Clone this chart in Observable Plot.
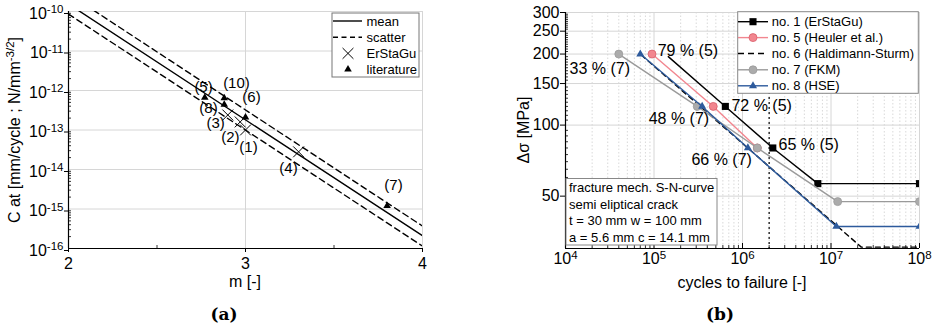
<!DOCTYPE html>
<html><head><meta charset="utf-8">
<script src="https://cdn.jsdelivr.net/npm/d3@7"></script>
<script src="https://cdn.jsdelivr.net/npm/@observablehq/plot@0.6"></script>
<style>
body{margin:0;background:#fff;}
#wrap{position:relative;width:934px;height:329px;overflow:hidden;background:#fff;font-family:"Liberation Sans",Arial,sans-serif;}
#pa{position:absolute;left:0;top:0;}
#pb{position:absolute;left:470px;top:0;}
.cap{position:absolute;top:304px;font-family:"DejaVu Serif",serif;font-weight:bold;font-size:17px;transform:translateX(-50%);white-space:nowrap;}
</style></head>
<body><div id="wrap"><div id="pa"></div><div id="pb"></div>
<div class="cap" style="left:224px">(a)</div><div class="cap" style="left:720px">(b)</div></div>
<script>
// ---------- Panel (a) data ----------
const aLineM = [2, 4];
const aMeanC = [1.55e-10, 2.1e-16];
const aUpperC = [2.8e-10, 3.7e-16];
const aLowerC = [8.6e-11, 1.15e-16];
const aErM = [3.0, 2.97, 2.9, 3.3];
const aErC = [1.0e-13, 1.6e-13, 2.4e-13, 2.8e-14];
const aLitM = [2.77, 2.88, 2.88, 3.0, 3.8];
const aLitC = [6.6e-13, 6.4e-13, 4.4e-13, 2.1e-13, 1.2e-15];
const aLabelText = ["(5)", "(10)", "(6)", "(8)", "(3)", "(2)", "(1)", "(4)", "(7)"];
const aLabelM = [2.763, 2.949, 3.034, 2.791, 2.831, 2.915, 3.017, 3.243, 3.836];
const aLabelC = [1.2e-12, 1.5e-12, 6.6e-13, 3.5e-13, 1.45e-13, 6.5e-14, 3.6e-14, 1.1e-14, 3.9e-15];
const aXTicks = [2, 3, 4];
const aXMinor = [2.5, 3.5];
const aYTicks = [1e-16, 1e-15, 1e-14, 1e-13, 1e-12, 1e-11, 1e-10];
const aYTickLabels = ["10^-16", "10^-15", "10^-14", "10^-13", "10^-12", "10^-11", "10^-10"];
const minorMult = [2, 3, 4, 5, 6, 7, 8, 9];
const aLegend = ["mean", "scatter", "ErStaGu", "literature"];

// ---------- Panel (b) data ----------
const bXTicks = [1e4, 1e5, 1e6, 1e7, 1e8];
const bXTickLabels = ["10^4", "10^5", "10^6", "10^7", "10^8"];
const bYTicks = [50, 100, 150, 200, 250, 300];
const bYTickLabels = ["50", "100", "150", "200", "250", "300"];
const bRefN = [2e6];
const s1N = [1.45e5, 6.4e5, 2.2e6, 7.1e6, 1e8];
const s1S = [195, 120, 80, 56.5, 56.5];
const s1MarkN = [6.4e5, 2.2e6, 7.1e6, 1e8];
const s1MarkS = [120, 80, 56.5, 56.5];
const s5N = [9.5e4, 4.67e5, 1.47e6];
const s5S = [200, 120, 80];
const s6N = [7.2e4, 2.2e7, 1e8];
const s6S = [198, 30.4, 30.4];
const s7N = [4e4, 3.08e5, 1.47e6, 1.19e7, 1e8];
const s7S = [200, 120, 80, 47.4, 47.4];
const s8N = [7e4, 3.5e5, 1.15e6, 1.15e7, 1e8];
const s8S = [200, 120, 80, 37.2, 37.2];
const bLabelText = ["79 % (5)", "33 % (7)", "72 % (5)", "48 % (7)", "65 % (5)", "66 % (7)"];
const bLabelN = [1.1e5, 1.11e4, 7.5e5, 8.7e4, 2.55e6, 2.65e5];
const bLabelS = [207, 173, 121, 106.4, 82.6, 71.3];
const bLegend = ["no. 1 (ErStaGu)", "no. 5 (Heuler et al.)", "no. 6 (Haldimann-Sturm)", "no. 7 (FKM)", "no. 8 (HSE)"];
const bNote = ["fracture mech. S-N-curve", "semi eliptical crack", "t = 30 mm w = 100 mm", "a = 5.6 mm c = 14.1 mm"];

const FONT = "Liberation Sans, Arial, sans-serif";
const GRID = "#d6d6d6";
const PINK = "#f2868f", PINKD = "#d9606c";
const GRAY = "#9a9a9a", GRAYF = "#ababab";
const BLUE = "#2d5a9c";

function supify(svg) {
  d3.select(svg).selectAll("text").each(function () {
    const t = this.textContent;
    const k = t.indexOf("^");
    if (k < 0) return;
    const base = t.slice(0, k), exp = t.slice(k + 1);
    const el = d3.select(this);
    el.selectAll("*").remove();
    el.text(null);
    el.append("tspan").text(base);
    el.append("tspan").attr("dy", "-0.45em").attr("font-size", "0.72em").text(exp);
  });
}

// ---------- Panel (a) ----------
const WA = 440, HA = 290, mlA = 68, mrA = 18, mtA = 11, mbA = 42;
const pwA = WA - mlA - mrA, phA = HA - mtA - mbA;
const aYMinor = aYTicks.slice(0, -1).flatMap(d => minorMult.map(k => d * k));

const plotA = Plot.plot({
  width: WA, height: HA, marginLeft: mlA, marginRight: mrA, marginTop: mtA, marginBottom: mbA,
  style: {fontFamily: FONT, fontSize: "16px", color: "#000", background: "#fff", overflow: "visible"},
  x: {domain: [2, 4]},
  y: {type: "log", domain: [1e-16, 1e-10]},
  marks: [
    Plot.ruleY(aYTicks, {stroke: GRID, strokeWidth: 1}),
    Plot.ruleX([3, 4], {stroke: GRID, strokeWidth: 1}),
    Plot.line(aLineM, {x: aLineM, y: aUpperC, stroke: "#000", strokeWidth: 1.4, strokeDasharray: "6,4", clip: true}),
    Plot.line(aLineM, {x: aLineM, y: aLowerC, stroke: "#000", strokeWidth: 1.4, strokeDasharray: "6,4", clip: true}),
    Plot.line(aLineM, {x: aLineM, y: aMeanC, stroke: "#000", strokeWidth: 1.4, clip: true}),
    Plot.dot(aErM, {x: aErM, y: aErC, symbol: "times", r: 5, stroke: "#000", strokeWidth: 1, fill: "none"}),
    Plot.dot(aLitM, {x: aLitM, y: aLitC, symbol: "triangle", r: 2.8, fill: "#000", stroke: "none"}),
    Plot.text(aLabelText, {x: aLabelM, y: aLabelC, text: aLabelText, fontSize: 15, fill: "#000"}),
    Plot.tickY(aYMinor, {y: d => d, insetRight: pwA - 3, stroke: "#000", strokeWidth: 0.8}),
    Plot.tickX(aXMinor, {x: d => d, insetTop: phA - 3, stroke: "#000", strokeWidth: 0.8}),
    Plot.ruleX([2], {stroke: "#000", strokeWidth: 1.2}),
    Plot.ruleY([1e-16], {stroke: "#000", strokeWidth: 1.2}),
    Plot.axisY(aYTicks, {anchor: "left", tickSize: 4, tickPadding: 1, dy: 2, label: null,
      tickFormat: d => aYTickLabels[aYTicks.indexOf(d)]}),
    Plot.axisX(aXTicks, {anchor: "bottom", tickSize: 4, tickPadding: 5, label: null,
      tickFormat: d => String(d)})
  ]
});
supify(plotA);
{
  const s = d3.select(plotA);
  s.append("text").attr("transform", "translate(14,130) rotate(-90)").attr("text-anchor", "middle")
    .attr("dy", "0.35em").attr("font-size", 16).attr("fill", "#000")
    .call(t => {
      t.append("tspan").text("C at [mm/cycle ; N/mm");
      t.append("tspan").attr("font-size", 11.5).attr("dy", -6).text("-3/2");
      t.append("tspan").attr("dy", 6).text("]");
    });
  s.append("text").attr("x", 245).attr("y", 281).attr("text-anchor", "middle").attr("dy", "0.35em")
    .attr("font-size", 16).attr("fill", "#000").text("m [-]");
  const g = s.append("g").attr("font-size", 13).attr("fill", "#000").attr("text-anchor", "start");
  g.append("rect").attr("x", 332).attr("y", 13).attr("width", 87).attr("height", 64)
    .attr("fill", "#fff").attr("stroke", "#777").attr("stroke-width", 1);
  const ry = [21, 37.2, 53.4, 69.4];
  g.append("line").attr("x1", 333).attr("x2", 362).attr("y1", ry[0]).attr("y2", ry[0]).attr("stroke", "#000").attr("stroke-width", 1.4);
  g.append("line").attr("x1", 333).attr("x2", 362).attr("y1", ry[1]).attr("y2", ry[1]).attr("stroke", "#000").attr("stroke-width", 1.4).attr("stroke-dasharray", "5,3.5");
  g.append("path").attr("d", d3.symbol(d3.symbolTimes, 25 * Math.PI)()).attr("transform", `translate(348,${ry[2]})`).attr("fill", "none").attr("stroke", "#000");
  g.append("path").attr("d", d3.symbol(d3.symbolTriangle, 2.8 * 2.8 * Math.PI)()).attr("transform", `translate(348,${ry[3]})`).attr("fill", "#000");
  aLegend.forEach((t, i) => g.append("text").attr("x", 366.5).attr("y", ry[i]).attr("dy", "0.35em").attr("text-anchor", "start").text(t));
}
document.getElementById("pa").appendChild(plotA);

// ---------- Panel (b) ----------
const WB = 464, HB = 290, mlB = 95, mrB = 15, mtB = 12, mbB = 42;
const pwB = WB - mlB - mrB, phB = HB - mtB - mbB;
const bXMinor = bXTicks.slice(0, -1).flatMap(d => minorMult.map(k => d * k));
const bYMinor = d3.range(30, 301, 5).filter(v => !bYTicks.includes(v));

const plotB = Plot.plot({
  width: WB, height: HB, marginLeft: mlB, marginRight: mrB, marginTop: mtB, marginBottom: mbB,
  style: {fontFamily: FONT, fontSize: "16px", color: "#000", background: "#fff", overflow: "visible"},
  x: {type: "log", domain: [1e4, 1e8]},
  y: {type: "log", domain: [30, 300]},
  marks: [
    Plot.ruleX(bXMinor, {stroke: "#cfcfcf", strokeWidth: 0.8, strokeDasharray: "1.5,2"}),
    Plot.ruleX(bXTicks, {stroke: GRID, strokeWidth: 1}),
    Plot.ruleY(bYTicks, {stroke: GRID, strokeWidth: 1}),
    Plot.ruleX(bRefN, {stroke: "#000", strokeWidth: 1.2, strokeDasharray: "2,3"}),
    Plot.line(s1N, {x: s1N, y: s1S, stroke: "#000", strokeWidth: 1.4, clip: true}),
    Plot.dot(s1MarkN, {x: s1MarkN, y: s1MarkS, symbol: "square", r: 4, fill: "#000", clip: true}),
    Plot.line(s5N, {x: s5N, y: s5S, stroke: PINK, strokeWidth: 1.4, clip: true}),
    Plot.dot(s5N, {x: s5N, y: s5S, r: 4, fill: PINK, stroke: PINKD, strokeWidth: 0.8, clip: true}),
    Plot.line(s6N, {x: s6N, y: s6S, stroke: "#000", strokeWidth: 1.4, strokeDasharray: "5,4", clip: true}),
    Plot.line(s7N, {x: s7N, y: s7S, stroke: GRAY, strokeWidth: 1.4, clip: true}),
    Plot.dot(s7N, {x: s7N, y: s7S, r: 4, fill: GRAYF, stroke: GRAY, strokeWidth: 0.8, clip: true}),
    Plot.line(s8N, {x: s8N, y: s8S, stroke: BLUE, strokeWidth: 1.4, clip: true}),
    Plot.dot(s8N, {x: s8N, y: s8S, symbol: "triangle", r: 3, fill: BLUE, clip: true}),
    Plot.text(bLabelText, {x: bLabelN, y: bLabelS, text: bLabelText, textAnchor: "start", fontSize: 16, fill: "#000"}),
    Plot.tickY(bYMinor, {y: d => d, insetRight: pwB - 3, stroke: "#000", strokeWidth: 0.8}),
    Plot.tickX(bXMinor, {x: d => d, insetTop: phB - 3, stroke: "#000", strokeWidth: 0.8}),
    Plot.tickX(bXTicks, {x: d => d, insetTop: phB - 5, stroke: "#000", strokeWidth: 1}),
    Plot.ruleX([1e4], {stroke: "#000", strokeWidth: 1.2}),
    Plot.ruleY([30], {stroke: "#000", strokeWidth: 1.2}),
    Plot.axisY(bYTicks, {anchor: "left", tickSize: 5, tickPadding: 1, label: null,
      tickFormat: d => bYTickLabels[bYTicks.indexOf(d)]}),
    Plot.axisX(bXTicks, {anchor: "bottom", tickSize: 0, tickPadding: 4, label: null,
      tickFormat: d => bXTickLabels[bXTicks.indexOf(d)]})
  ]
});
supify(plotB);
{
  const s = d3.select(plotB);
  s.append("text").attr("transform", "translate(53,130) rotate(-90)").attr("text-anchor", "middle")
    .attr("dy", "0.35em").attr("font-size", 16).attr("fill", "#000").text("Δσ [MPa]");
  s.append("text").attr("x", 272).attr("y", 282).attr("text-anchor", "middle").attr("dy", "0.35em")
    .attr("font-size", 16).attr("fill", "#000").text("cycles to failure [-]");
  // note box
  const n = s.append("g").attr("font-size", 13).attr("fill", "#000").attr("text-anchor", "start");
  n.append("rect").attr("x", 96).attr("y", 178.5).attr("width", 151).attr("height", 66.5)
    .attr("fill", "#fff").attr("stroke", "#888").attr("stroke-width", 1);
  bNote.forEach((t, i) => n.append("text").attr("x", 99).attr("y", 187.3 + i * 16.7).attr("dy", "0.35em").attr("text-anchor", "start").text(t));
  // legend
  const g = s.append("g").attr("font-size", 13).attr("fill", "#000").attr("text-anchor", "start");
  g.append("rect").attr("x", 267.7).attr("y", 11.7).attr("width", 180.6).attr("height", 81.6)
    .attr("fill", "#fff").attr("stroke", "#888").attr("stroke-width", 1);
  const ry = [21.7, 37.6, 53.5, 69.8, 85.8];
  const L = (y, c, dash) => g.append("line").attr("x1", 268).attr("x2", 298).attr("y1", y).attr("y2", y)
    .attr("stroke", c).attr("stroke-width", 1.4).attr("stroke-dasharray", dash || null);
  const S = (y, type, r, fill, stroke) => g.append("path").attr("d", d3.symbol(type, r * r * Math.PI)())
    .attr("transform", `translate(283,${y})`).attr("fill", fill).attr("stroke", stroke || "none").attr("stroke-width", 0.8);
  L(ry[0], "#000"); S(ry[0], d3.symbolSquare, 4, "#000");
  L(ry[1], PINK); S(ry[1], d3.symbolCircle, 4, PINK, PINKD);
  L(ry[2], "#000", "6,4");
  L(ry[3], GRAY); S(ry[3], d3.symbolCircle, 4, GRAYF, GRAY);
  L(ry[4], BLUE); S(ry[4], d3.symbolTriangle, 3, BLUE);
  bLegend.forEach((t, i) => g.append("text").attr("x", 301.7).attr("y", ry[i]).attr("dy", "0.35em").attr("text-anchor", "start").text(t));
}
document.getElementById("pb").appendChild(plotB);
</script>
</body></html>
